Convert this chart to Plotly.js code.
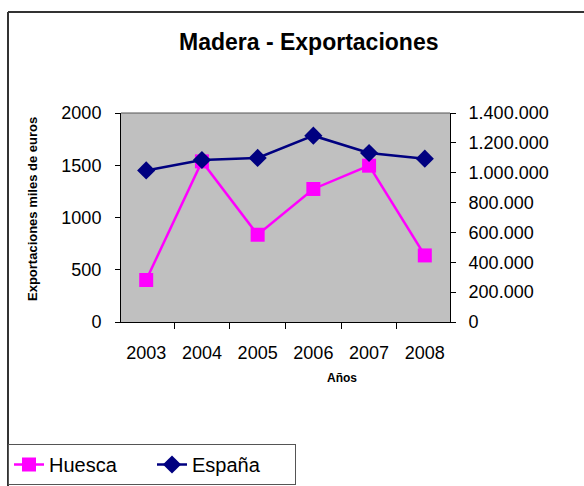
<!DOCTYPE html>
<html>
<head>
<meta charset="utf-8">
<script src="https://cdn.plot.ly/plotly-3.0.1.min.js"></script>
<style>
html,body{margin:0;padding:0;background:#fff;}
#chart{width:584px;height:486px;}
</style>
</head>
<body>
<div id="chart"></div>
<script>
const years = ['2003','2004','2005','2006','2007','2008'];
const huesca = [402, 1537, 835, 1273, 1496, 637];
const espana = [1015000, 1085000, 1099000, 1248000, 1132000, 1094000];
const leftTicks = [0, 500, 1000, 1500, 2000];
const rightTicks = [0, 200000, 400000, 600000, 800000, 1000000, 1200000, 1400000];

const W = 584, H = 486;
const mL = 121, mR = 134, mT = 113, mB = 164;
const pw = W - mL - mR, ph = H - mT - mB;
const px = x => (x - mL) / pw;
const py = y => (H - mB - y) / ph;

const FONT = 'Liberation Sans, Arial, sans-serif';

const traces = [
  {
    x: years, y: huesca, name: 'Huesca', type: 'scatter', mode: 'lines+markers',
    yaxis: 'y',
    line: {color: '#FF00FF', width: 2.5},
    marker: {symbol: 'square', size: 14, color: '#FF00FF'}
  },
  {
    x: years, y: espana, name: 'España', type: 'scatter', mode: 'lines+markers',
    yaxis: 'y2',
    line: {color: '#000080', width: 2.5},
    marker: {symbol: 'diamond', size: 14, color: '#000080'}
  }
];

const layout = {
  width: W, height: H,
  margin: {l: mL, r: mR, t: mT, b: mB, pad: 0, autoexpand: false},
  paper_bgcolor: '#FFFFFF',
  plot_bgcolor: '#C0C0C0',
  separators: ',.',
  font: {family: FONT, color: '#000', size: 18},
  showlegend: true,
  legend: {
    orientation: 'h',
    x: px(8), y: py(444), xanchor: 'left', yanchor: 'top',
    bordercolor: '#555', borderwidth: 1, bgcolor: '#FFFFFF',
    font: {family: FONT, size: 20, color: '#000'},
    entrywidth: 98, entrywidthmode: 'pixels',
    itemwidth: 30, tracegroupgap: 0
  },
  xaxis: {
    type: 'category',
    showline: true, linecolor: '#000', linewidth: 1,
    mirror: false,
    ticks: 'outside', ticklen: 6, tickcolor: '#000', tickwidth: 1,
    tickson: 'boundaries',
    ticklabelstandoff: 14,
    tickfont: {family: FONT, size: 18, color: '#000'},
    showgrid: false, zeroline: false, fixedrange: true
  },
  yaxis: {
    range: [0, 2000],
    tickvals: leftTicks,
    showline: true, linecolor: '#000', linewidth: 1,
    ticks: 'outside', ticklen: 5, tickcolor: '#000',
    ticklabelstandoff: 10,
    tickfont: {family: FONT, size: 18, color: '#000'},
    showgrid: false, zeroline: false, fixedrange: true
  },
  yaxis2: {
    range: [0, 1400000],
    tickvals: rightTicks,
    tickformat: ',d',
    overlaying: 'y', side: 'right',
    showline: true, linecolor: '#000', linewidth: 1,
    ticks: 'outside', ticklen: 5, tickcolor: '#000',
    ticklabelstandoff: 9,
    tickfont: {family: FONT, size: 18, color: '#000'},
    showgrid: false, zeroline: false, fixedrange: true
  },
  annotations: [
    {
      text: '<b>Madera - Exportaciones</b>',
      xref: 'paper', yref: 'paper', x: px(308), y: py(42),
      xanchor: 'center', yanchor: 'middle', showarrow: false,
      font: {family: FONT, size: 23, color: '#000'}
    },
    {
      text: '<b>Exportaciones miles de euros</b>',
      xref: 'paper', yref: 'paper', x: px(32), y: py(209),
      xanchor: 'center', yanchor: 'middle', showarrow: false, textangle: -90,
      font: {family: FONT, size: 13, color: '#000'}
    },
    {
      text: '<b>Años</b>',
      xref: 'paper', yref: 'paper', x: px(342), y: py(378),
      xanchor: 'center', yanchor: 'middle', showarrow: false,
      font: {family: FONT, size: 12, color: '#000'}
    }
  ],
  shapes: [
    {type: 'line', xref: 'paper', yref: 'paper', x0: 0, x1: 1, y0: 1, y1: 1,
     line: {color: '#555', width: 1}},
    {type: 'line', xref: 'paper', yref: 'paper', x0: px(8), x1: px(600), y0: py(12), y1: py(12),
     line: {color: '#333', width: 2}},
    {type: 'line', xref: 'paper', yref: 'paper', x0: px(8), x1: px(8), y0: py(12), y1: py(500),
     line: {color: '#333', width: 2}}
  ]
};

Plotly.newPlot('chart', traces, layout, {displayModeBar: false, staticPlot: true});
</script>
</body>
</html>
